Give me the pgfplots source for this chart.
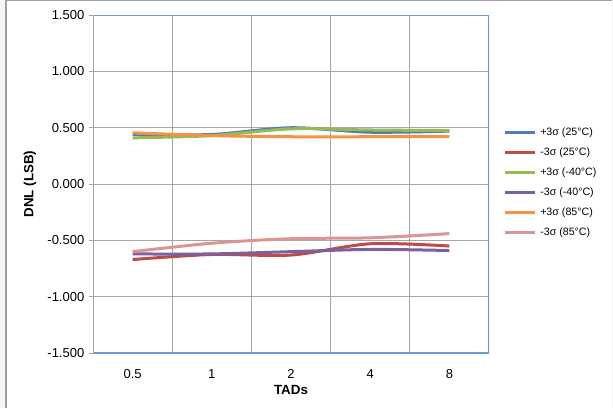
\documentclass[border=0pt]{standalone}
\usepackage{pgfplots}
\pgfplotsset{compat=1.18}
\usepackage{fontspec}
\setmainfont{Liberation Sans}
\definecolor{cBlue}{HTML}{4A7EBB}
\definecolor{cRed}{HTML}{BE4B48}
\definecolor{cGreen}{HTML}{98B954}
\definecolor{cPurple}{HTML}{7D60A0}
\definecolor{cOrange}{HTML}{F69240}
\definecolor{cPink}{HTML}{DA9694}
\definecolor{cFrame}{HTML}{6F9AD0}
\definecolor{cGrid}{HTML}{A6A6A6}
\begin{document}
\begin{tikzpicture}
\fill[gray!8] (0,0) rectangle (459.75pt,306pt);
\fill[white] (4.5pt,0) rectangle (459pt,305.25pt);
\draw[gray!75, line width=0.9pt] (4.5pt,0) -- (4.5pt,305.6pt) -- (459pt,305.6pt);
\begin{axis}[
  at={(69.75pt,41.25pt)}, anchor=south west,
  scale only axis, width=297pt, height=253.5pt,
  xmin=-0.5, xmax=4.5, ymin=-1.5, ymax=1.5,
  xtick={0,1,2,3,4}, xticklabels={0.5,1,2,4,8},
  minor xtick={0.5,1.5,2.5,3.5},
  xminorgrids, ymajorgrids,
  ytick={-1.5,-1,-0.5,0,0.5,1,1.5},
  grid style={cGrid, line width=0.8pt},
  minor x grid style={cGrid, line width=0.8pt},
  major x grid style={draw=none},
  xtick style={draw=none}, minor tick length=0pt,
  ytick style={cGrid, line width=0.8pt},
  tick align=outside, ytick pos=left, major tick length=3pt,
  axis line style={draw=none},
  /pgf/number format/assume math mode=true,
  yticklabel style={/pgf/number format/fixed, /pgf/number format/fixed zerofill, /pgf/number format/precision=3, font=\fontsize{9.75}{11}\selectfont},
  xticklabel style={font=\fontsize{9.75}{11}\selectfont, anchor=center, yshift=-12.75pt},
  scaled y ticks=false,
  xlabel={\textbf{TADs}}, ylabel={\textbf{DNL (LSB)}},
  xlabel style={at={(axis description cs:0.5,-0.109)}, anchor=center, font=\fontsize{10}{12}\selectfont},
  ylabel style={at={(axis description cs:-0.159,0.5)}, anchor=center, font=\fontsize{10}{12}\selectfont},
  legend style={at={(axis description cs:1,0.505)}, anchor=west, xshift=10.5pt, draw=none, fill=none, inner sep=0pt,
    font=\fontsize{8}{9}\selectfont, row sep=7.4pt,
    nodes={inner sep=0pt, text height=6pt, text depth=1.5pt},
    /tikz/every odd column/.append style={column sep=3pt}},
  legend cell align=left,
  legend image code/.code={\draw[#1, line width=2.25pt] (0pt,0pt) -- (22.5pt,0pt);},
  every axis plot/.append style={line width=2.25pt, smooth, no markers},
]
\addplot[cBlue] coordinates {(0,0.44) (1,0.44) (2,0.50) (3,0.46) (4,0.47)};
\addlegendentry{+3σ (25°C)}
\addplot[cRed] coordinates {(0,-0.67) (1,-0.625) (2,-0.63) (3,-0.53) (4,-0.55)};
\addlegendentry{-3σ (25°C)}
\addplot[cGreen] coordinates {(0,0.41) (1,0.43) (2,0.49) (3,0.48) (4,0.475)};
\addlegendentry{+3σ (-40°C)}
\addplot[cPurple] coordinates {(0,-0.62) (1,-0.62) (2,-0.60) (3,-0.58) (4,-0.59)};
\addlegendentry{-3σ (-40°C)}
\addplot[cOrange] coordinates {(0,0.455) (1,0.43) (2,0.42) (3,0.42) (4,0.42)};
\addlegendentry{+3σ (85°C)}
\addplot[cPink] coordinates {(0,-0.60) (1,-0.525) (2,-0.485) (3,-0.477) (4,-0.44)};
\addlegendentry{-3σ (85°C)}
\draw[cFrame, line width=1pt] (rel axis cs:0,0) -- (rel axis cs:1,0) -- (rel axis cs:1,1) -- (rel axis cs:0,1);
\draw[cGrid, line width=0.8pt] (rel axis cs:0,0) -- (rel axis cs:0,1);
\end{axis}
\end{tikzpicture}
\end{document}
